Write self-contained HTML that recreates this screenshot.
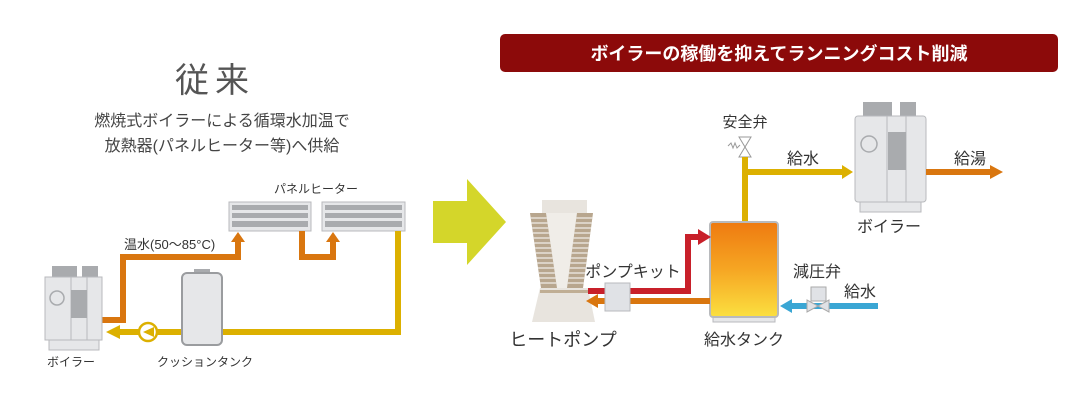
<!DOCTYPE html>
<html><head><meta charset="utf-8"><style>
html,body{margin:0;padding:0;background:#fff;}
svg{display:block;font-family:"Liberation Sans","Noto Sans CJK JP",sans-serif;}
</style></head><body>
<svg width="1092" height="401" viewBox="0 0 1092 401" xmlns="http://www.w3.org/2000/svg">
<defs>
<linearGradient id="tg" x1="0" y1="0" x2="0" y2="1">
<stop offset="0" stop-color="#ee7a10"/><stop offset="0.5" stop-color="#f6a623"/><stop offset="1" stop-color="#fbe040"/>
</linearGradient>
<clipPath id="cols">
<polygon points="530,213 546,213 557,288 541,288"/>
<polygon points="577,213 593,213 583,288 567,288"/>
</clipPath>
</defs>
<!-- LEFT -->
<text x="215" y="92" font-size="34" fill="#555" text-anchor="middle" letter-spacing="6">従来</text>
<text x="222" y="126" font-size="16" fill="#444" text-anchor="middle">燃焼式ボイラーによる循環水加温で</text>
<text x="222" y="151" font-size="16" fill="#444" text-anchor="middle">放熱器(パネルヒーター等)へ供給</text>
<text x="316" y="193" font-size="12" fill="#333" text-anchor="middle">パネルヒーター</text>
<g fill="#e6e7e9" stroke="#b8babd" stroke-width="1">
<rect x="229" y="202" width="82" height="29"/>
<rect x="322" y="202" width="83" height="29"/>
</g>
<g fill="#a9abae">
<rect x="232" y="205" width="76" height="5"/><rect x="232" y="213" width="76" height="5"/><rect x="232" y="221" width="76" height="6"/>
<rect x="325" y="205" width="77" height="5"/><rect x="325" y="213" width="77" height="5"/><rect x="325" y="221" width="77" height="6"/>
</g>
<polyline points="102,320 123,320 123,257 238,257 238,240" fill="none" stroke="#d9760f" stroke-width="6"/>
<polygon points="231,242 245,242 238,232" fill="#d9760f"/>
<polyline points="302,231 302,257 333,257 333,240" fill="none" stroke="#d9760f" stroke-width="6"/>
<polygon points="326,242 340,242 333,232" fill="#d9760f"/>
<text x="124" y="249" font-size="13" fill="#333">温水(50〜85°C)</text>
<polyline points="398,231 398,332 118,332" fill="none" stroke="#dcb000" stroke-width="6"/>
<polygon points="120,325 120,339 106,332" fill="#dcb000"/>
<circle cx="148" cy="332" r="9" fill="#fff" stroke="#dcb000" stroke-width="2.5"/>
<polygon points="154,327 154,337 143,332" fill="#dcb000"/>
<rect x="194" y="269" width="16" height="5" fill="#a9abae"/>
<rect x="182" y="273" width="40" height="72" rx="5" fill="#e6e7e9" stroke="#9a9c9f" stroke-width="2"/>
<rect x="52" y="266" width="25" height="12" fill="#a9abae"/>
<rect x="82" y="266" width="16" height="12" fill="#a9abae"/>
<rect x="45" y="277" width="57" height="63" fill="#e6e7e9" stroke="#b8babd"/>
<rect x="49" y="340" width="50" height="10" fill="#e6e7e9" stroke="#b8babd"/>
<line x1="71" y1="277" x2="71" y2="340" stroke="#b8babd"/>
<line x1="87" y1="277" x2="87" y2="340" stroke="#b8babd"/>
<rect x="71" y="290" width="16" height="28" fill="#a9abae"/>
<circle cx="57" cy="298" r="7" fill="#e6e7e9" stroke="#a9abae" stroke-width="1.5"/>
<text x="71" y="366" font-size="12" fill="#333" text-anchor="middle">ボイラー</text>
<text x="205" y="366" font-size="12" fill="#333" text-anchor="middle">クッションタンク</text>
<!-- green arrow -->
<polygon points="433,201 467,201 467,179 506,222 467,265 467,243 433,243" fill="#d4d62a"/>
<!-- banner -->
<rect x="500" y="34" width="558" height="38" rx="5" fill="#8c0a0a"/>
<text x="779" y="60" font-size="18" font-weight="bold" fill="#fff" text-anchor="middle">ボイラーの稼働を抑えてランニングコスト削減</text>
<!-- RIGHT -->
<text x="745" y="127" font-size="15" fill="#333" text-anchor="middle">安全弁</text>
<polygon points="739,137 751,137 745,147" fill="#fff" stroke="#999"/>
<polygon points="739,157 751,157 745,147" fill="#fff" stroke="#999"/>
<path d="M728,146 l3,-3 l2,5 l2,-5 l2,5 l3,-3" fill="none" stroke="#999"/>
<polyline points="745,222 745,172 842,172" fill="none" stroke="#dcb000" stroke-width="6"/>
<rect x="742" y="157" width="6" height="16" fill="#dcb000"/>
<polygon points="842,165 842,179 853,172" fill="#dcb000"/>
<text x="803" y="164" font-size="16" fill="#333" text-anchor="middle">給水</text>
<rect x="863" y="102" width="29" height="15" fill="#a9abae"/>
<rect x="900" y="102" width="16" height="15" fill="#a9abae"/>
<rect x="855" y="116" width="71" height="86" rx="3" fill="#e6e7e9" stroke="#b8babd"/>
<rect x="860" y="202" width="61" height="10" fill="#e6e7e9" stroke="#b8babd"/>
<line x1="887" y1="116" x2="887" y2="202" stroke="#b8babd"/>
<line x1="906" y1="116" x2="906" y2="202" stroke="#b8babd"/>
<rect x="888" y="132" width="18" height="38" fill="#a9abae"/>
<circle cx="869" cy="144" r="8" fill="#e6e7e9" stroke="#a9abae" stroke-width="1.5"/>
<text x="889" y="232" font-size="16" fill="#333" text-anchor="middle">ボイラー</text>
<line x1="926" y1="172" x2="992" y2="172" stroke="#d9760f" stroke-width="6"/>
<polygon points="990,165 990,179 1003,172" fill="#d9760f"/>
<text x="970" y="164" font-size="16" fill="#333" text-anchor="middle">給湯</text>
<rect x="713" y="316" width="62" height="6" fill="#e6e7e9" stroke="#b8babd"/>
<rect x="710" y="222" width="68" height="95" rx="3" fill="url(#tg)" stroke="#b8babd" stroke-width="2"/>
<text x="744" y="345" font-size="16" fill="#333" text-anchor="middle">給水タンク</text>
<!-- heat pump -->
<rect x="542" y="200" width="45" height="13" fill="#e8e4de"/>
<polygon points="530,213 593,213 583,288 541,288" fill="#f0ede8"/>
<polygon points="540,288 588,288 595,322 532,322" fill="#e8e4de"/>
<g clip-path="url(#cols)">
<rect x="525" y="210" width="75" height="80" fill="#b8a68e"/>
<g stroke="#f0ede8" stroke-width="1.2">
<line x1="525" y1="218" x2="600" y2="218"/><line x1="525" y1="223" x2="600" y2="223"/><line x1="525" y1="228" x2="600" y2="228"/><line x1="525" y1="233" x2="600" y2="233"/><line x1="525" y1="238" x2="600" y2="238"/><line x1="525" y1="243" x2="600" y2="243"/><line x1="525" y1="248" x2="600" y2="248"/><line x1="525" y1="253" x2="600" y2="253"/><line x1="525" y1="258" x2="600" y2="258"/><line x1="525" y1="263" x2="600" y2="263"/><line x1="525" y1="268" x2="600" y2="268"/><line x1="525" y1="273" x2="600" y2="273"/><line x1="525" y1="278" x2="600" y2="278"/><line x1="525" y1="283" x2="600" y2="283"/>
</g>
</g>
<rect x="540" y="290" width="48" height="3" fill="#c0ae94"/>
<text x="563" y="346" font-size="18" fill="#333" text-anchor="middle">ヒートポンプ</text>
<!-- red/orange pipes -->
<polyline points="588,291 688,291 688,237 700,237" fill="none" stroke="#c8202a" stroke-width="6"/>
<polygon points="698,229 698,245 711,237" fill="#c8202a"/>
<line x1="710" y1="301" x2="596" y2="301" stroke="#d9760f" stroke-width="6"/>
<polygon points="598,294 598,308 586,301" fill="#d9760f"/>
<rect x="605" y="283" width="25" height="28" fill="#e0e2e6" stroke="#b8babd"/>
<text x="633" y="277" font-size="16" fill="#333" text-anchor="middle">ポンプキット</text>
<line x1="878" y1="306" x2="790" y2="306" stroke="#3aa6d4" stroke-width="6"/>
<polygon points="792,299 792,313 780,306" fill="#3aa6d4"/>
<rect x="811" y="287" width="15" height="14" fill="#e0e2e6" stroke="#aaa"/>
<polygon points="807,300 807,312 818,306" fill="#e0e2e6" stroke="#aaa"/>
<polygon points="829,300 829,312 818,306" fill="#e0e2e6" stroke="#aaa"/>
<text x="817" y="277" font-size="16" fill="#333" text-anchor="middle">減圧弁</text>
<text x="860" y="297" font-size="16" fill="#333" text-anchor="middle">給水</text>
</svg>
</body></html>
